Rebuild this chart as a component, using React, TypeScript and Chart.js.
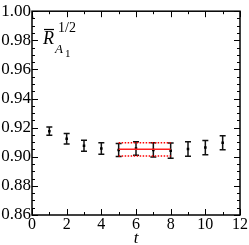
import { useEffect, useRef } from "react";
import { Chart, registerables } from "chart.js";

Chart.register(...registerables);

const tValues = [0, 1, 2, 3, 4, 5, 6, 7, 8, 9, 10, 11];
const ratioValues = [0.9955, 0.9176, 0.9124, 0.9076, 0.9057, 0.9047, 0.9057, 0.9047, 0.9042, 0.9053, 0.9063, 0.9096];
const ratioErrors = [0.0, 0.0029, 0.0036, 0.0038, 0.004, 0.0045, 0.0047, 0.0049, 0.0052, 0.005, 0.0049, 0.0048];
const fitRange = [5, 8];
const fitValue = 0.9051;
const fitError = 0.0045;
const xTicks = [0, 2, 4, 6, 8, 10, 12];
const yTicks = [0.86, 0.88, 0.9, 0.92, 0.94, 0.96, 0.98, 1.0];
const xMinorStep = 1;
const yMinorStep = 0.005;

const SERIF = '"Liberation Serif"';

export default function App() {
  const ref = useRef<HTMLCanvasElement>(null);

  useEffect(() => {
    document.body.style.margin = "0";
    const canvas = ref.current;
    if (!canvas) return;

    const errorBars = {
      id: "errorBars",
      beforeDatasetsDraw(c: any) {
        const { ctx } = c;
        const xs = c.scales.x;
        const ys = c.scales.y;
        ctx.save();
        ctx.strokeStyle = "#111";
        ctx.lineWidth = 1.5;
        tValues.forEach((t, i) => {
          const e = ratioErrors[i];
          if (!e) return;
          const x = xs.getPixelForValue(t);
          const y1 = ys.getPixelForValue(ratioValues[i] + e);
          const y2 = ys.getPixelForValue(ratioValues[i] - e);
          ctx.beginPath();
          ctx.moveTo(x, y1);
          ctx.lineTo(x, y2);
          ctx.moveTo(x - 3, y1);
          ctx.lineTo(x + 3, y1);
          ctx.moveTo(x - 3, y2);
          ctx.lineTo(x + 3, y2);
          ctx.stroke();
        });
        ctx.restore();
      },
    };

    const frame = {
      id: "frame",
      afterDraw(c: any) {
        const { ctx, chartArea: a } = c;
        const xs = c.scales.x;
        const ys = c.scales.y;
        ctx.save();
        ctx.strokeStyle = "#000";
        ctx.lineWidth = 1.5;
        ctx.strokeRect(a.left, a.top, a.right - a.left, a.bottom - a.top);
        ctx.lineWidth = 1;
        ctx.beginPath();
        for (let v = 0; v <= 12 + 1e-9; v += xMinorStep) {
          const major = xTicks.some((m) => Math.abs(m - v) < 1e-6);
          const len = major ? 6 : 3;
          const x = Math.round(xs.getPixelForValue(v)) + 0.5;
          ctx.moveTo(x, a.bottom);
          ctx.lineTo(x, a.bottom - len);
          ctx.moveTo(x, a.top);
          ctx.lineTo(x, a.top + len);
        }
        for (let v = 0.86; v <= 1.0 + 1e-9; v += yMinorStep) {
          const major = yTicks.some((m) => Math.abs(m - v) < 1e-6);
          const len = major ? 6 : 3;
          const y = Math.round(ys.getPixelForValue(v)) + 0.5;
          ctx.moveTo(a.left, y);
          ctx.lineTo(a.left + len, y);
          ctx.moveTo(a.right, y);
          ctx.lineTo(a.right - len, y);
        }
        ctx.stroke();

        ctx.fillStyle = "#000";
        ctx.textAlign = "center";
        ctx.textBaseline = "alphabetic";
        ctx.font = `italic 17px ${SERIF}`;
        ctx.fillText("t", xs.getPixelForValue(6), 243);

        ctx.textAlign = "left";
        ctx.font = `italic 18px ${SERIF}`;
        ctx.fillText("R", 43, 44);
        ctx.lineWidth = 1.2;
        ctx.beginPath();
        ctx.moveTo(44, 29.5);
        ctx.lineTo(54, 29.5);
        ctx.stroke();
        ctx.font = `italic 13px ${SERIF}`;
        ctx.fillText("A", 55, 53);
        ctx.font = `11px ${SERIF}`;
        ctx.fillText("1", 65, 57);
        ctx.font = `14px ${SERIF}`;
        ctx.fillText("1/2", 58, 32);
        ctx.restore();
      },
    };

    const chart = new Chart(canvas, {
      type: "scatter",
      data: {
        datasets: [
          {
            data: [
              { x: fitRange[0], y: fitValue + fitError },
              { x: fitRange[1], y: fitValue + fitError },
            ],
            type: "line",
            borderColor: "#ff0000",
            borderWidth: 1.5,
            borderDash: [1.5, 1.5],
            pointRadius: 0,
          },
          {
            data: [
              { x: fitRange[0], y: fitValue - fitError },
              { x: fitRange[1], y: fitValue - fitError },
            ],
            type: "line",
            borderColor: "#ff0000",
            borderWidth: 1.5,
            borderDash: [1.5, 1.5],
            pointRadius: 0,
          },
          {
            data: [
              { x: fitRange[0], y: fitValue },
              { x: fitRange[1], y: fitValue },
            ],
            type: "line",
            borderColor: "#ff2020",
            borderWidth: 1.5,
            pointRadius: 0,
          },
          {
            data: tValues.map((t, i) => ({ x: t, y: ratioValues[i] })),
            pointStyle: "rect",
            pointRadius: 1.8,
            backgroundColor: "#000",
            borderColor: "#000",
            borderWidth: 0,
          },
        ],
      },
      options: {
        responsive: false,
        animation: false,
        devicePixelRatio: 1,
        layout: { padding: { top: 6, right: 9, left: 0, bottom: 0 } },
        plugins: { legend: { display: false }, tooltip: { enabled: false } },
        scales: {
          x: {
            type: "linear",
            min: 0,
            max: 12,
            afterBuildTicks: (s: any) => {
              s.ticks = xTicks.map((v) => ({ value: v }));
            },
            afterFit: (s: any) => {
              s.height = 30;
            },
            ticks: {
              font: { family: SERIF, size: 16 },
              color: "#000",
              padding: 0,
              maxRotation: 0,
              autoSkip: false,
              callback: (v: any) => String(v),
            },
            grid: { display: false, drawTicks: false },
            border: { display: false },
          },
          y: {
            type: "linear",
            min: 0.86,
            max: 1.0,
            afterBuildTicks: (s: any) => {
              s.ticks = yTicks.map((v) => ({ value: v }));
            },
            afterFit: (s: any) => {
              s.width = 32;
            },
            ticks: {
              font: { family: SERIF, size: 17 },
              color: "#000",
              padding: 1,
              autoSkip: false,
              callback: (v: any) => Number(v).toFixed(2),
            },
            grid: { display: false, drawTicks: false },
            border: { display: false },
          },
        },
      },
      plugins: [errorBars, frame],
    });

    return () => chart.destroy();
  }, []);

  return (
    <div style={{ width: 249, height: 245 }}>
      <canvas ref={ref} width={249} height={245} />
    </div>
  );
}
